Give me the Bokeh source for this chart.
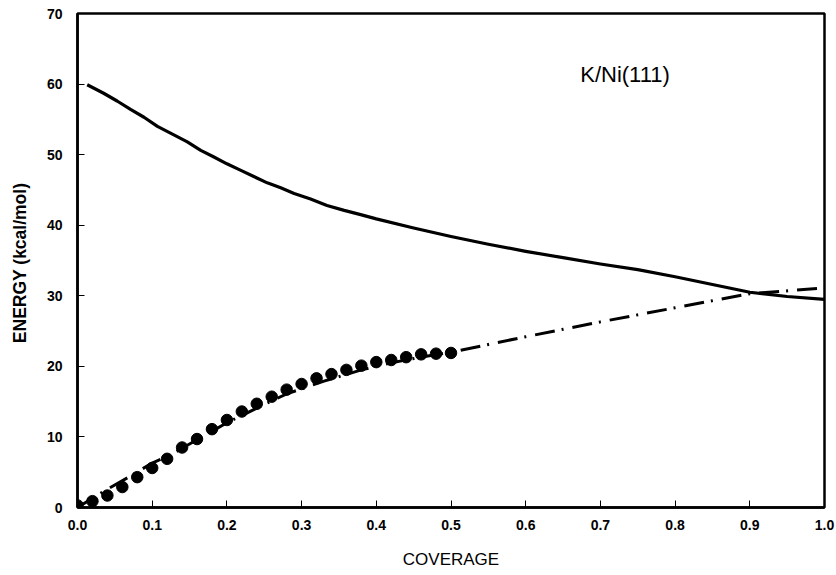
from bokeh.plotting import figure
from bokeh.models import Range1d, FixedTicker, NumeralTickFormatter, ColumnDataSource
from bokeh.core.properties import value
from bokeh.embed import file_html
from bokeh.resources import INLINE

# ---- data ----
upper_x = [0.013, 0.035, 0.053, 0.071, 0.089, 0.107, 0.129, 0.147, 0.165, 0.182, 0.20,
           0.218, 0.236, 0.254, 0.272, 0.29, 0.312, 0.334, 0.357, 0.379, 0.40, 0.45,
           0.50, 0.55, 0.60, 0.65, 0.70, 0.75, 0.80, 0.85, 0.90, 0.95, 1.00]
upper_y = [59.9, 58.7, 57.6, 56.4, 55.3, 54.0, 52.8, 51.8, 50.6, 49.7, 48.7,
           47.8, 46.9, 46.0, 45.3, 44.5, 43.7, 42.8, 42.1, 41.5, 40.9, 39.6,
           38.4, 37.3, 36.3, 35.4, 34.5, 33.7, 32.7, 31.6, 30.5, 29.9, 29.5]

fit_x = [0.0, 0.04, 0.07, 0.10, 0.125, 0.15, 0.20, 0.25, 0.28, 0.33, 0.38, 0.42,
         0.46, 0.50, 0.55, 0.60, 0.70, 0.80, 0.90, 1.00]
fit_y = [0.0, 2.6, 4.4, 6.3, 7.5, 9.0, 12.0, 14.6, 16.1, 17.9, 19.5, 20.5,
         21.3, 22.0, 23.1, 24.2, 26.3, 28.3, 30.3, 31.1]

dots_x = [0.00, 0.02, 0.04, 0.06, 0.08, 0.10, 0.12, 0.14, 0.16, 0.18, 0.20, 0.22, 0.24,
          0.26, 0.28, 0.30, 0.32, 0.34, 0.36, 0.38, 0.40, 0.42, 0.44, 0.46, 0.48, 0.50]
dots_y = [0.3, 0.9, 1.7, 2.9, 4.3, 5.6, 6.9, 8.5, 9.7, 11.1, 12.4, 13.6, 14.7,
          15.7, 16.7, 17.5, 18.3, 18.9, 19.5, 20.1, 20.6, 20.9, 21.3, 21.7, 21.8, 21.9]

x_ticks = [0.0, 0.1, 0.2, 0.3, 0.4, 0.5, 0.6, 0.7, 0.8, 0.9, 1.0]
y_ticks = [0, 10, 20, 30, 40, 50, 60, 70]

label_text = ["K/Ni(111)"]
label_x = [0.673]
label_y = [61.4]

FONT = "Liberation Sans"

p = figure(width=836, height=575, output_backend="svg", toolbar_location=None,
           x_range=Range1d(0, 1), y_range=Range1d(0, 70),
           min_border_left=77, min_border_right=12, min_border_top=13, min_border_bottom=68)

p.background_fill_color = "white"
p.border_fill_color = "white"
p.outline_line_color = "black"
p.outline_line_width = 2.5
p.xgrid.visible = False
p.ygrid.visible = False

p.line(upper_x, upper_y, line_color="black", line_width=3.2, line_join="round")
p.line(fit_x, fit_y, line_color="black", line_width=3, line_dash="20 7 2 9")
p.scatter(dots_x, dots_y, size=11.5, marker="circle", fill_color="black", line_color="black")

src = ColumnDataSource(dict(x=label_x, y=label_y, t=label_text))
p.text(x="x", y="y", text="t", source=src, text_font=value(FONT), text_font_size="22px",
       text_color="black", text_baseline="middle", text_align="left")

for ax in (p.xaxis[0], p.yaxis[0]):
    ax.axis_line_color = "black"
    ax.axis_line_width = 2.5
    ax.major_tick_in = 7
    ax.major_tick_out = 0
    ax.major_tick_line_color = "black"
    ax.major_tick_line_width = 1
    ax.minor_tick_line_color = None
    ax.major_label_text_font = FONT
    ax.major_label_text_font_style = "bold"
    ax.major_label_text_font_size = "14px"
    ax.major_label_text_color = "black"
    ax.axis_label_text_font = FONT
    ax.axis_label_text_color = "black"

p.xaxis.ticker = FixedTicker(ticks=x_ticks)
p.xaxis.formatter = NumeralTickFormatter(format="0.0")
p.xaxis.major_label_standoff = 12
p.xaxis.axis_label = "COVERAGE"
p.xaxis.axis_label_standoff = 17
p.xaxis.axis_label_text_font_size = "17px"
p.xaxis.axis_label_text_font_style = "normal"

p.yaxis.ticker = FixedTicker(ticks=y_ticks)
p.yaxis.major_label_standoff = 15
p.yaxis.axis_label = "ENERGY  (kcal/mol)"
p.yaxis.axis_label_standoff = 14
p.yaxis.axis_label_text_font_size = "17.5px"
p.yaxis.axis_label_text_font_style = "bold"

open("out.html", "w").write(file_html(p, INLINE))
